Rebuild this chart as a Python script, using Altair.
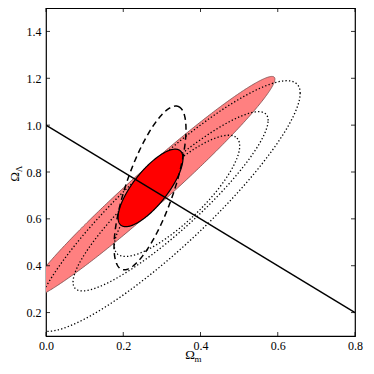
import numpy as np
import pandas as pd
import altair as alt

# ---- data ----
# contour ellipses: centre (cx, cy) and two conjugate semi-axis vectors (ax, ay), (bx, by) in data units
ell_names = ["light", "dark", "dashed", "dot1", "dot2", "dot3"]
ell_cx = [0.2706, 0.2706, 0.2693, 0.3392, 0.3225, 0.314]
ell_cy = [0.732, 0.732, 0.732, 0.6982, 0.675, 0.6546]
ell_ax = [0.3205, 0.0764, 0.0725, 0.1553, 0.2525, 0.344]
ell_ay = [0.4724, 0.1592, 0.3480, 0.2462, 0.345, 0.4816]
ell_bx = [0.0316, 0.0350, 0.0585, 0.0469, 0.0, 0.0]
ell_by = [-0.0577, -0.0450, -0.0327, -0.0794, 0.165, 0.233]

# flat-universe line
flat_x = [0.0, 0.8]
flat_y = [1.0, 0.2]

x_ticks = [0.0, 0.2, 0.4, 0.6, 0.8]
y_ticks = [0.2, 0.4, 0.6, 0.8, 1.0, 1.2, 1.4]

W, H = 309, 328

rows = []
t = np.linspace(0, 2 * np.pi, 361)
for i, n in enumerate(ell_names):
    for k, tt in enumerate(t):
        rows.append({
            "name": n, "k": k,
            "x": ell_cx[i] + ell_ax[i] * np.cos(tt) + ell_bx[i] * np.sin(tt),
            "y": ell_cy[i] + ell_ay[i] * np.cos(tt) + ell_by[i] * np.sin(tt),
        })
ell = pd.DataFrame(rows)

xs = alt.Scale(domain=[0.0, 0.8], nice=False, zero=False)
ys = alt.Scale(domain=[0.1, 1.5], nice=False, zero=False)
font = "Liberation Serif"

xax = alt.Axis(values=x_ticks, format=".1f", title=None, tickSize=0, domain=False, grid=False,
               labelFlush=False, labelFont=font, labelFontSize=12, labelColor="black", labelPadding=4)
yax = alt.Axis(values=y_ticks, format=".1f", title=None, tickSize=0, domain=False, grid=False,
               labelFlush=False, labelFont=font, labelFontSize=12, labelColor="black", labelPadding=5)

def enc(ch):
    return ch.encode(
        x=alt.X("x:Q", scale=xs, axis=xax),
        y=alt.Y("y:Q", scale=ys, axis=yax),
        order="k:Q",
    )

light = enc(alt.Chart(ell[ell.name == "light"]).mark_line(
    fill="#ff8080", fillOpacity=1, opacity=1, stroke="#7a4a4a", strokeWidth=0.8, clip=True))
dots = alt.Chart(ell[ell.name.str.startswith("dot")]).mark_line(
    color="black", strokeDash=[1.3, 2.2], strokeWidth=1.3, clip=True).encode(
    x=alt.X("x:Q", scale=xs, axis=xax), y=alt.Y("y:Q", scale=ys, axis=yax),
    detail="name:N", order="k:Q")
dark = enc(alt.Chart(ell[ell.name == "dark"]).mark_line(
    fill="#ff0000", fillOpacity=1, opacity=1, stroke="black", strokeWidth=1.2, clip=True))
dashed = enc(alt.Chart(ell[ell.name == "dashed"]).mark_line(
    color="black", strokeDash=[6, 4], strokeWidth=1.5, clip=True))

flat = alt.Chart(pd.DataFrame({"x": flat_x, "y": flat_y})).mark_line(
    color="black", strokeWidth=1.3, clip=True).encode(
    x=alt.X("x:Q", scale=xs, axis=xax), y=alt.Y("y:Q", scale=ys, axis=yax))

xt = pd.DataFrame({"x": x_ticks})
yt = pd.DataFrame({"y": y_ticks})
tick_b = alt.Chart(xt).mark_rule(color="black", strokeWidth=0.8).encode(
    x=alt.X("x:Q", scale=xs, axis=xax), y=alt.value(H), y2=alt.value(H - 4))
tick_t = alt.Chart(xt).mark_rule(color="black", strokeWidth=0.8).encode(
    x=alt.X("x:Q", scale=xs, axis=xax), y=alt.value(0), y2=alt.value(4))
tick_l = alt.Chart(yt).mark_rule(color="black", strokeWidth=0.8).encode(
    y=alt.Y("y:Q", scale=ys, axis=yax), x=alt.value(0), x2=alt.value(4))
tick_r = alt.Chart(yt).mark_rule(color="black", strokeWidth=0.8).encode(
    y=alt.Y("y:Q", scale=ys, axis=yax), x=alt.value(W), x2=alt.value(W - 4))

one = pd.DataFrame({"a": [0]})
xt_O = alt.Chart(one).mark_text(text="Ω", font=font, fontSize=13, color="black").encode(
    x=alt.value(144), y=alt.value(347))
xt_m = alt.Chart(one).mark_text(text="m", font=font, fontSize=9, color="black").encode(
    x=alt.value(152), y=alt.value(351))
yt_O = alt.Chart(one).mark_text(text="Ω", font=font, fontSize=13, color="black", angle=270).encode(
    x=alt.value(-31), y=alt.value(169))
yt_L = alt.Chart(one).mark_text(text="Λ", font=font, fontSize=9, color="black", angle=270).encode(
    x=alt.value(-27), y=alt.value(161))

chart = alt.layer(light, dots, dark, dashed, flat, tick_b, tick_t, tick_l, tick_r,
                  xt_O, xt_m, yt_O, yt_L).properties(
    width=W, height=H, autosize="none",
    padding={"left": 38, "top": 0, "right": 10, "bottom": 40},
).configure_view(stroke="black", strokeWidth=1.2)

chart.save("out.html", embed_options={"renderer": "svg", "actions": False})
